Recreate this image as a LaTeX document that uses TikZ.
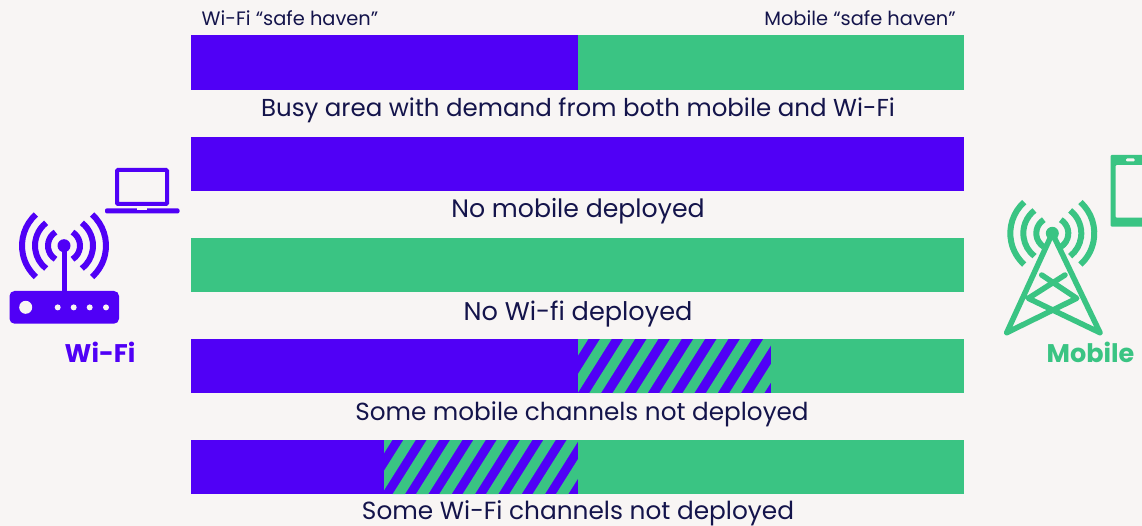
\documentclass[tikz,border=0pt]{standalone}
\usepackage{fontspec}
\setmainfont{Poppins}
\definecolor{wifiblue}{HTML}{5000F6}
\definecolor{mobgreen}{HTML}{3AC483}
\definecolor{paper}{HTML}{F8F5F4}
\definecolor{inkblue}{HTML}{14144B}
\tikzset{
    caption/.style = {font = \fontsize{#1}{28}\selectfont, text = inkblue, inner sep = 0pt},
    havenlabel/.style = {font = \fontsize{19.4}{22}\selectfont, text = inkblue, inner sep = 0pt},
    brandlabel/.style = {font = \fontsize{25.5}{28}\selectfont\bfseries, inner sep = 0pt},
    signal/.pic = {
        \foreach \rad/\ang in {16/58,29/52,42/48}
            \draw[line width = 6pt] (180+\ang:\rad) arc[start angle = 180-\ang, end angle = 180+\ang, radius = \rad pt]
                                    (-\ang:\rad) arc[start angle = \ang, end angle = -\ang, radius = \rad pt];
    }
}

\begin{document}
\begin{tikzpicture}[x = 1pt, y = -1pt]
\useasboundingbox (0,0) rectangle (1142,526);
\fill[paper] (0,0) rectangle (1142,526);

% bars
\fill[wifiblue] (191,35) rectangle (578,90);
\fill[mobgreen] (578,35) rectangle (964,90);
\fill[wifiblue] (191,137) rectangle (964,191);
\fill[mobgreen] (191,238) rectangle (964,292);
\fill[wifiblue] (191,339) rectangle (578,393);
\fill[mobgreen] (771,339) rectangle (964,393);
\fill[wifiblue] (191,440) rectangle (384,494);
\fill[mobgreen] (578,440) rectangle (964,494);

% hatched parts
\begin{scope}
\clip (578,339) rectangle (771,393);
\fill[wifiblue] (578,339) rectangle (771,393);
\foreach \n in {-2,...,9}
    \fill[mobgreen] (589.3+23.33*\n,393) -- (623.3+23.33*\n,339) -- (635+23.33*\n,339) -- (601+23.33*\n,393) -- cycle;
\end{scope}
\begin{scope}
\clip (384,440) rectangle (578,494);
\fill[wifiblue] (384,440) rectangle (578,494);
\foreach \n in {-2,...,9}
    \fill[mobgreen] (392.7+23.33*\n,494) -- (426.7+23.33*\n,440) -- (439+23.33*\n,440) -- (405+23.33*\n,494) -- cycle;
\end{scope}

% texts
\node[havenlabel] (wifihaven) at (290,18.5) {Wi-Fi “safe haven”};
\node[havenlabel] (mobhaven) at (860,18.5) {Mobile “safe haven”};
\node[caption=24.5] (busy) at (578,110) {Busy area with demand from both mobile and Wi-Fi};
\node[caption=25.2] (nomob) at (578,211) {No mobile deployed};
\node[caption=25.6] (nowifi) at (578,314) {No Wi-fi deployed};
\node[caption=24.7] (somemob) at (582,414) {Some mobile channels not deployed};
\node[caption=24.8] (somewifi) at (578,513.5) {Some Wi-Fi channels not deployed};
\node[brandlabel, text = wifiblue] (wifilabel) at (100,352) {Wi-Fi};
\node[brandlabel, text = mobgreen] (moblabel) at (1090.5,352) {Mobile};

% router
\fill[wifiblue, rounded corners = 5pt] (9.5,291) rectangle (119,323.7);
\fill[paper] (25.7,307.3) circle (6.5pt);
\foreach \x in {57.7,73.7,89.7,106}
    \fill[paper] (\x,307.4) circle (3pt);
\draw[wifiblue, line width = 5pt] (64,246) -- (64,292);
\fill[wifiblue] (64,245.7) circle (6.5pt);
\pic[wifiblue] at (64,245.7) {signal};

% laptop
\draw[wifiblue, line width = 4pt, rounded corners = 1pt] (117,170) rectangle (167,204);
\fill[wifiblue, rounded corners = 2pt] (105,208.3) -- (179.5,208.3) -- (179.5,213.5) -- (105,213.5) -- cycle;
\fill[paper] (137,208.3) rectangle (147,209.8);

% tower
\coordinate (apex) at (1052.3,233.3);
\coordinate (footl) at (1006.7,332.7);
\coordinate (footr) at (1100,332.7);
\coordinate (midl) at (1028.3,298.3);
\coordinate (midr) at (1076.7,298.3);
\coordinate (upl) at (1041.7,275);
\coordinate (upr) at (1065,275);
\draw[mobgreen, line width = 5.5pt, line join = round, line cap = round]
    (footl) -- (apex) -- (footr)
    (footl) -- (midr) -- (upl)
    (footr) -- (midl) -- (upr);
\fill[mobgreen] (apex) circle (6.5pt);
\pic[mobgreen] at (apex) {signal};

% phone
\fill[mobgreen, rounded corners = 1pt, even odd rule]
    (1110.7,155) rectangle (1160,226.7)
    (1115.5,165) rectangle (1155,217.7);
\fill[paper, rounded corners = 1pt] (1126,158.5) rectangle (1134.5,161.5);
\end{tikzpicture}
\end{document}
